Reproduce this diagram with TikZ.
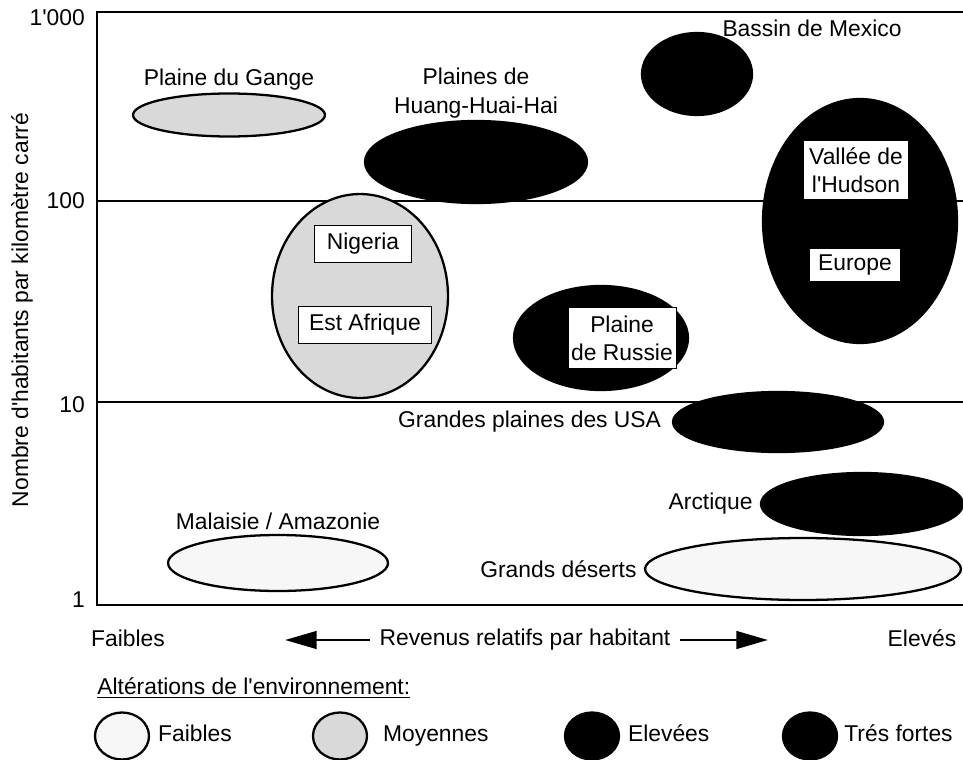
\documentclass[tikz,border=0pt]{standalone}
\usepackage{fontspec}
\setmainfont{Liberation Sans}
\usepackage{tikz}
\usetikzlibrary{arrows.meta,positioning,shapes.geometric}
\newcommand{\apos}{\textquotesingle}

\begin{document}
\begin{tikzpicture}[
    x=0.02cm, y=-0.02cm,
    every node/.style={font=\fontsize{13}{16}\selectfont},
    lbl/.style={align=center,inner sep=1pt},
    zone/.style={ellipse,draw,line width=1.3pt,inner sep=0pt},
    faible/.style={zone,fill=gray!6},
    moyen/.style={zone,fill=gray!30},
    forte/.style={zone,fill=black},
    cadre/.style={draw,fill=white,line width=0.9pt,align=center,inner sep=2pt},
    pastille/.style={minimum width=1.08cm,minimum height=0.94cm},
    legtxt/.style={text height=9pt,text depth=3pt},
    axe/.style={line width=1.4pt},
    fleche/.style={line width=1.5pt,-{Triangle[length=18pt,width=10pt]}}]
    \useasboundingbox (0,0) rectangle (963,760);

    % cadre et lignes de la grille
    \draw[axe] (963,12) -- (97,12) -- (97,605) -- (963,605);
    \draw[axe] (97,201) -- (963,201);
    \draw[axe] (97,402) -- (963,402);

    \node[anchor=east] (t1000) at (91,18) {1\apos000};
    \node[anchor=east] (t100) at (91,201) {100};
    \node[anchor=east] (t10) at (91,405) {10};
    \node[anchor=east] (t1) at (91,600) {1};
    \node[rotate=90] (ordonnee) at (22,310) {Nombre d\apos habitants par kilomètre carré};

    % zones
    \node[moyen,minimum width=3.84cm,minimum height=0.86cm] (gange) at (229,115) {};
    \node[lbl,above=0pt of gange] (lgange) {Plaine du Gange};

    \node[forte,minimum width=4.44cm,minimum height=1.64cm] (huang) at (476,162) {};
    \node[lbl,above=0pt of huang] (lhuang) {Plaines de\\Huang-Huai-Hai};

    \node[forte,minimum width=2.2cm,minimum height=1.64cm] (mexico) at (697,74) {};
    \node[lbl] (lmexico) at (812,28) {Bassin de Mexico};

    \node[forte,minimum width=3.88cm,minimum height=4.88cm] (hudson) at (860,221) {};
    \node[cadre,minimum width=2.12cm,minimum height=1.2cm] (lhudson) at (856,170) {Vallée de\\l\apos Hudson};
    \node[cadre,minimum width=1.84cm,minimum height=0.66cm] (leurope) at (855,265) {Europe};

    \node[moyen,minimum width=3.52cm,minimum height=4.08cm] (afrique) at (360,296) {};
    \node[cadre,minimum width=1.94cm,minimum height=0.74cm] (lnigeria) at (363,244) {Nigeria};
    \node[cadre,minimum width=2.66cm,minimum height=0.74cm] (lestaf) at (365,325) {Est Afrique};

    \node[forte,minimum width=3.48cm,minimum height=2.08cm] (russie) at (601,338) {};
    \node[cadre,minimum width=2.1cm,minimum height=1.22cm] (lrussie) at (622,338) {Plaine\\de Russie};

    \node[forte,minimum width=4.2cm,minimum height=1.2cm] (usa) at (778,422) {};
    \node[lbl,left=5pt of usa] (lusa) {Grandes plaines des USA};

    \node[forte,minimum width=4.04cm,minimum height=1.24cm] (arctique) at (862,504) {};
    \node[lbl,left=3pt of arctique] (larctique) {Arctique};

    \node[faible,minimum width=6.32cm,minimum height=1.24cm] (deserts) at (803,569) {};
    \node[lbl,left=3pt of deserts] (ldeserts) {Grands déserts};

    \node[faible,minimum width=4.4cm,minimum height=1.12cm] (malaisie) at (278,563) {};
    \node[lbl,above=1pt of malaisie] (lmalaisie) {Malaisie / Amazonie};

    % axe des revenus
    \node (faibles) at (128,638) {Faibles};
    \node (eleves) at (922,638) {Elevés};
    \node[inner sep=5pt] (revenu) at (525,640) {Revenus relatifs par habitant};
    \coordinate (gauche) at (285,640);
    \coordinate (droite) at (768,640);
    \draw[fleche] (revenu.west) -- (gauche);
    \draw[fleche] (revenu.east) -- (droite);

    % legende
    \node[anchor=west,inner sep=0pt] (titre) at (97,688) {\underline{Altérations de l\apos environnement:}};
    \node[faible,pastille] (leg1) at (122,736) {};
    \node[legtxt,right=1pt of leg1] (tleg1) {Faibles};
    \node[moyen,pastille] (leg2) at (340,736) {};
    \node[legtxt,right=5pt of leg2] (tleg2) {Moyennes};
    \node[forte,pastille] (leg3) at (592,736) {};
    \node[legtxt,right=1pt of leg3] (tleg3) {Elevées};
    \node[forte,pastille] (leg4) at (810,736) {};
    \node[legtxt,right=0pt of leg4] (tleg4) {Trés fortes};
  \end{tikzpicture}
\end{document}
